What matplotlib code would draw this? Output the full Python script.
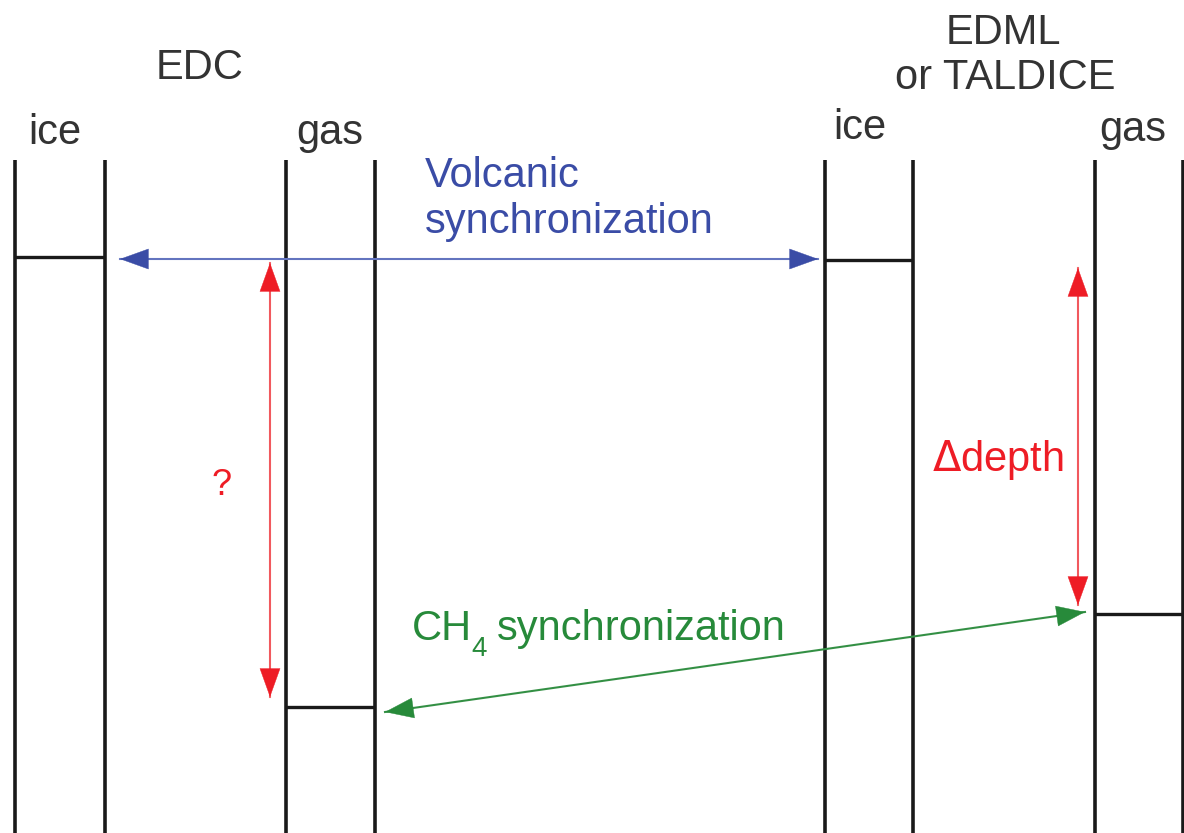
import matplotlib
matplotlib.use("Agg")
import matplotlib.pyplot as plt

plt.rcParams['font.family'] = ['Liberation Sans', 'DejaVu Sans']

# column edges (pixel coords of the diagram)
col_x = [15, 105, 286, 375, 825, 913, 1095, 1183]
col_top = 160
col_bottom = 833

# horizontal tie markers: (x_left, x_right, depth)
marker_x0 = [15, 286, 825, 1095]
marker_x1 = [105, 375, 913, 1184]
marker_y = [257, 707, 260, 614]

# arrows: start, end
volc_start = (120, 259)
volc_end = (818, 259)
ch4_start = (385, 712)
ch4_end = (1085, 612)
q_start = (270, 263)
q_end = (270, 697)
dd_start = (1078, 268)
dd_end = (1078, 605)

black = '#1a1a1a'
text_grey = '#333333'
blue = '#3a4ca6'
blue_line = '#6f7fc6'
red = '#ee1c25'
red_line = '#f26a6e'
green = '#278a3a'
green_line = '#3a934a'

fig = plt.figure(figsize=(11.84, 8.33), dpi=100)
ax = fig.add_axes([0, 0, 1, 1])
ax.set_xlim(0, 1184)
ax.set_ylim(833, 0)
ax.axis('off')

for x in col_x:
    ax.plot([x, x], [col_top, col_bottom], color=black, lw=2.6, solid_capstyle='butt')

for x0, x1, y in zip(marker_x0, marker_x1, marker_y):
    ax.plot([x0, x1], [y, y], color=black, lw=2.4, solid_capstyle='butt')


def arrow(a, b, c, lc):
    ax.plot([a[0], b[0]], [a[1], b[1]], color=lc, lw=1.5)
    ax.annotate('', xy=b, xytext=a,
                arrowprops=dict(arrowstyle='<|-|>,head_length=1.0,head_width=0.36',
                                mutation_scale=20, color=c, lw=0.3,
                                shrinkA=0, shrinkB=0))


arrow(volc_start, volc_end, blue, blue_line)
arrow(q_start, q_end, red, red_line)
arrow(dd_start, dd_end, red, red_line)
arrow(ch4_start, ch4_end, green, green_line)

fs = 30
ax.text(200, 68, 'EDC', fontsize=fs, color=text_grey, ha='center', va='center')
ax.text(55, 133, 'ice', fontsize=fs, color=text_grey, ha='center', va='center')
ax.text(330, 133, 'gas', fontsize=fs, color=text_grey, ha='center', va='center')
ax.text(1003, 33, 'EDML', fontsize=fs, color=text_grey, ha='center', va='center')
ax.text(1005, 78, 'or TALDICE', fontsize=fs, color=text_grey, ha='center', va='center')
ax.text(860, 128, 'ice', fontsize=fs, color=text_grey, ha='center', va='center')
ax.text(1133, 130, 'gas', fontsize=fs, color=text_grey, ha='center', va='center')

ax.text(425, 176, 'Volcanic', fontsize=fs, color=blue, ha='left', va='center')
ax.text(425, 222, 'synchronization', fontsize=fs, color=blue, ha='left', va='center')
ax.text(222, 485, '?', fontsize=fs - 4, color=red, ha='center', va='center')
ax.text(998, 460, r'$\Delta$depth', fontsize=fs, color=red, ha='center', va='center')
ax.text(412, 640, 'CH', fontsize=fs, color=green, ha='left', va='baseline')
ax.text(471, 656, '4', fontsize=20, color=green, ha='left', va='baseline')
ax.text(497, 640, 'synchronization', fontsize=fs, color=green, ha='left', va='baseline')

fig.savefig('out.png', dpi=100, facecolor='white')
